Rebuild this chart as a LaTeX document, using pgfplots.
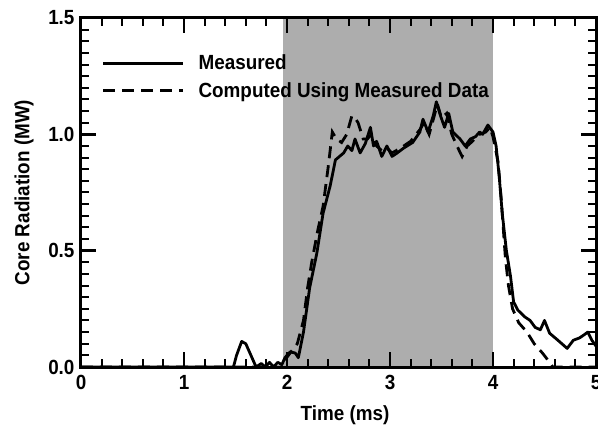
\documentclass[border=0pt]{standalone}
\usepackage{pgfplots}
\pgfplotsset{compat=1.18}
\usepackage{fontspec}
\setmainfont{Liberation Sans}[FakeStretch=0.92]
\definecolor{shade}{gray}{0.68}
\newcommand{\lf}{\fontsize{20.5bp}{24bp}\selectfont\bfseries}
\begin{document}
\begin{tikzpicture}[font=\lf]
\begin{axis}[
  at={(0,0)}, anchor=south west,
  scale only axis, width=515bp, height=349bp,
  xmin=0, xmax=5, ymin=0, ymax=1.5,
  xtick={0,1,2,3,4,5}, ytick={0,0.5,1.0,1.5},
  minor x tick num=4, minor y tick num=9,
  tick align=inside, xtick pos=both, ytick pos=both,
  major tick length=15bp, minor tick length=8bp,
  every major tick/.append style={line width=2.4bp, black},
  every minor tick/.append style={line width=2bp, black},
  axis line style={line width=3bp},
  axis on top=true,
  /pgf/number format/assume math mode=true,
  xticklabel style={font=\lf, yshift=-5bp},
  yticklabel style={font=\lf, xshift=-3bp},
  yticklabel={\pgfmathprintnumber[fixed,fixed zerofill,precision=1]{\tick}},
  xlabel={Time (ms)}, ylabel={Core Radiation (MW)},
  every axis x label/.style={at={(axis description cs:0.5126,-0.1375)}, anchor=center, font=\lf},
  every axis y label/.style={at={(axis description cs:-0.1107,0.5)}, rotate=90, anchor=center, font=\lf},
  legend style={draw=none, fill=none, at={(axis description cs:0.04,0.90)}, anchor=north west, font=\lf, row sep=7bp, inner sep=0pt},
  legend cell align=left,
  legend image code/.code={\draw[#1] (0bp,0bp) -- (80bp,0bp); \path (92bp,0bp);},
]
\addplot[draw=none, fill=shade, forget plot] coordinates {(1.96,0) (1.96,1.5) (4.0,1.5) (4.0,0)} -- cycle;
\addplot[black, line width=2.8bp, line join=round] coordinates {
(0,0) (1.48,0) (1.51,0.05) (1.56,0.11) (1.60,0.10) (1.65,0.05) (1.70,0.0) (1.75,0.015) (1.79,0.0) (1.83,0.02) (1.87,0.0) (1.91,0.02) (1.95,0.01) (1.98,0.04) (2.03,0.065) (2.08,0.06) (2.11,0.04) (2.16,0.15) (2.22,0.34) (2.29,0.49) (2.35,0.66) (2.42,0.78) (2.47,0.89) (2.55,0.92) (2.59,0.95) (2.63,0.93) (2.66,0.98) (2.71,0.92) (2.76,0.96) (2.81,1.03) (2.84,0.95) (2.87,0.97) (2.92,0.905) (2.97,0.95) (3.02,0.905) (3.07,0.92) (3.13,0.94) (3.22,0.965) (3.29,1.01) (3.32,1.065) (3.37,1.01) (3.42,1.08) (3.45,1.14) (3.49,1.08) (3.53,1.03) (3.57,1.09) (3.61,1.01) (3.68,0.98) (3.73,0.95) (3.78,0.98) (3.83,0.99) (3.87,1.01) (3.90,1.0) (3.95,1.04) (4.0,1.01) (4.03,0.95) (4.06,0.82) (4.09,0.66) (4.13,0.50) (4.17,0.39) (4.20,0.28) (4.24,0.245) (4.31,0.215) (4.36,0.20) (4.41,0.17) (4.46,0.16) (4.50,0.20) (4.55,0.145) (4.63,0.115) (4.72,0.08) (4.78,0.115) (4.84,0.125) (4.89,0.14) (4.92,0.15) (4.96,0.115) (5.0,0.09)
};
\addlegendentry{Measured}
\addplot[black, line width=2.8bp, dash pattern=on 12bp off 7bp] coordinates {
(0,0) (1.96,0) (1.98,0.03) (2.03,0.06) (2.10,0.10) (2.16,0.20) (2.20,0.34) (2.24,0.45) (2.30,0.59) (2.35,0.69) (2.40,0.86) (2.44,1.01) (2.48,0.98) (2.53,0.965) (2.58,1.0) (2.63,1.08) (2.66,1.07) (2.69,1.05) (2.74,0.98) (2.78,0.98) (2.82,1.0) (2.87,0.95) (2.92,0.93) (2.97,0.94) (3.02,0.92) (3.10,0.94) (3.20,0.97) (3.29,1.02) (3.33,1.05) (3.38,1.0) (3.43,1.08) (3.46,1.13) (3.50,1.07) (3.55,1.09) (3.60,1.0) (3.65,0.95) (3.70,0.905) (3.75,0.95) (3.80,0.97) (3.87,1.0) (3.93,1.01) (3.97,1.03) (4.0,0.99) (4.05,0.88) (4.08,0.72) (4.12,0.47) (4.15,0.35) (4.19,0.25) (4.25,0.19) (4.33,0.15) (4.40,0.10) (4.48,0.06) (4.55,0.02) (4.58,0) (5,0)
};
\addlegendentry{Computed Using Measured Data}
\end{axis}
\pgfresetboundingbox
\path[use as bounding box] (-81bp,-64bp) rectangle (517bp,367bp);
\end{tikzpicture}
\end{document}
